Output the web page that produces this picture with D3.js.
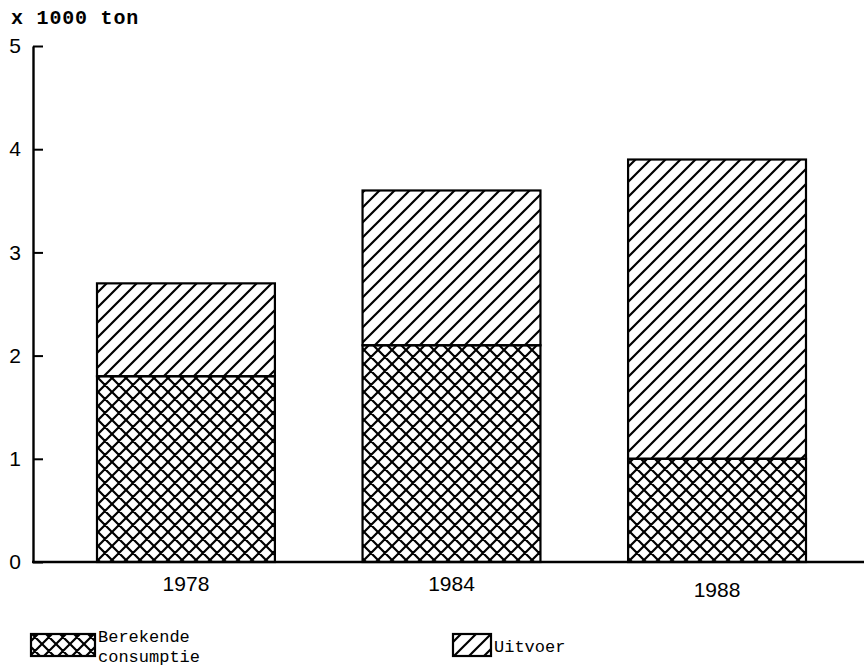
<!DOCTYPE html>
<html>
<head>
<meta charset="utf-8">
<script src="https://cdn.jsdelivr.net/npm/d3@7"></script>
<style>
  body { margin: 0; background: #fff; }
  svg { display: block; }
</style>
</head>
<body>
<svg width="864" height="672"></svg>
<script>
// data
var years = ["1978", "1984", "1988"];
var consumptie = [1.8, 2.1, 1.0];
var uitvoer = [0.9, 1.5, 2.9];
var yTicks = [0, 1, 2, 3, 4, 5];
var legendLabels = [["Berekende", "consumptie"], ["Uitvoer"]];

var svg = d3.select("svg");
var width = 864, height = 672;

var x0 = 33, yBase = 562, yTop = 46;

var x = d3.scaleBand()
  .domain(years)
  .range([97, 806])
  .paddingInner(0.33)
  .paddingOuter(0);

var y = d3.scaleLinear()
  .domain([0, 5])
  .range([yBase, yTop]);

// ~~~~ hatch patterns ~~~~
var defs = svg.append("defs");

var diag = defs.append("pattern")
  .attr("id", "diag")
  .attr("patternUnits", "userSpaceOnUse")
  .attr("width", 15).attr("height", 15);
diag.append("path")
  .attr("d", "M0,15 L15,0 M-3,3 L3,-3 M12,18 L18,12")
  .attr("stroke", "#000").attr("stroke-width", 2.2);

var cross = defs.append("pattern")
  .attr("id", "cross")
  .attr("patternUnits", "userSpaceOnUse")
  .attr("width", 14).attr("height", 14);
cross.append("path")
  .attr("d", "M0,14 L14,0 M-3,3 L3,-3 M11,17 L17,11 M0,0 L14,14 M-3,11 L3,17 M11,-3 L17,3")
  .attr("stroke", "#000").attr("stroke-width", 2.2);

// ~~~~ bars ~~~~
var rows = years.map(function(yr, i) {
  return { year: yr, c: consumptie[i], u: uitvoer[i] };
});

var g = svg.append("g");

g.selectAll("rect.cons")
  .data(rows)
  .enter()
  .append("rect")
  .attr("class", "cons")
  .attr("x", function(d) { return x(d.year); })
  .attr("width", x.bandwidth())
  .attr("y", function(d) { return y(d.c); })
  .attr("height", function(d) { return y(0) - y(d.c); })
  .attr("fill", "url(#cross)")
  .attr("stroke", "#000")
  .attr("stroke-width", 2.2);

g.selectAll("rect.uit")
  .data(rows)
  .enter()
  .append("rect")
  .attr("class", "uit")
  .attr("x", function(d) { return x(d.year); })
  .attr("width", x.bandwidth())
  .attr("y", function(d) { return y(d.c + d.u); })
  .attr("height", function(d) { return y(d.c) - y(d.c + d.u); })
  .attr("fill", "url(#diag)")
  .attr("stroke", "#000")
  .attr("stroke-width", 2.2);

// ~~~~ axes ~~~~
var yAxis = d3.axisLeft(y)
  .tickValues(yTicks)
  .tickFormat(d3.format("d"))
  .tickSizeInner(-10)
  .tickSizeOuter(0)
  .tickPadding(12);

svg.append("g")
  .attr("transform", "translate(" + x0 + ",0)")
  .call(yAxis)
  .call(function(s) {
    s.select(".domain").attr("stroke-width", 2.4);
    s.selectAll(".tick line").attr("stroke-width", 2);
    s.selectAll(".tick text")
      .attr("font-family", "Liberation Sans, sans-serif")
      .attr("font-size", 21)
      .attr("fill", "#000");
  });

svg.append("line")
  .attr("x1", x0 - 1).attr("x2", width)
  .attr("y1", yBase).attr("y2", yBase)
  .attr("stroke", "#000").attr("stroke-width", 2.4);

var xAxis = d3.axisBottom(x).tickSize(0).tickPadding(14);
svg.append("g")
  .attr("transform", "translate(0," + yBase + ")")
  .call(xAxis)
  .call(function(s) {
    s.select(".domain").remove();
    s.selectAll(".tick text")
      .attr("font-family", "Liberation Sans, sans-serif")
      .attr("font-size", 21)
      .attr("fill", "#000");
    // 1988 label sits a bit lower in the original
    s.selectAll(".tick text").filter(function(d) { return d === "1988"; })
      .attr("dy", "1.0em");
  });

svg.append("text")
  .attr("x", 11).attr("y", 24)
  .attr("font-family", "Liberation Mono, monospace")
  .attr("font-weight", "bold")
  .attr("font-size", 20)
  .attr("letter-spacing", 0.8)
  .text("x 1000 ton");

// ~~~~ legend ~~~~
var legend = [
  { fill: "url(#cross)", x: 31, w: 64, lines: legendLabels[0] },
  { fill: "url(#diag)", x: 453, w: 38, lines: legendLabels[1] }
];

var lg = svg.selectAll("g.legend")
  .data(legend)
  .enter()
  .append("g")
  .attr("class", "legend");

lg.append("rect")
  .attr("x", function(d) { return d.x; })
  .attr("y", 634)
  .attr("width", function(d) { return d.w; })
  .attr("height", 22)
  .attr("fill", function(d) { return d.fill; })
  .attr("stroke", "#000")
  .attr("stroke-width", 2.2);

lg.each(function(d) {
  var t = d3.select(this).append("text")
    .attr("font-family", "Liberation Mono, monospace")
    .attr("font-size", 17)
    .attr("fill", "#000");
  var first = d.lines.length > 1 ? 642 : 652;
  d.lines.forEach(function(line, i) {
    t.append("tspan")
      .attr("x", d.x + d.w + 3)
      .attr("y", first + i * 20)
      .text(line);
  });
});
</script>
</body>
</html>
